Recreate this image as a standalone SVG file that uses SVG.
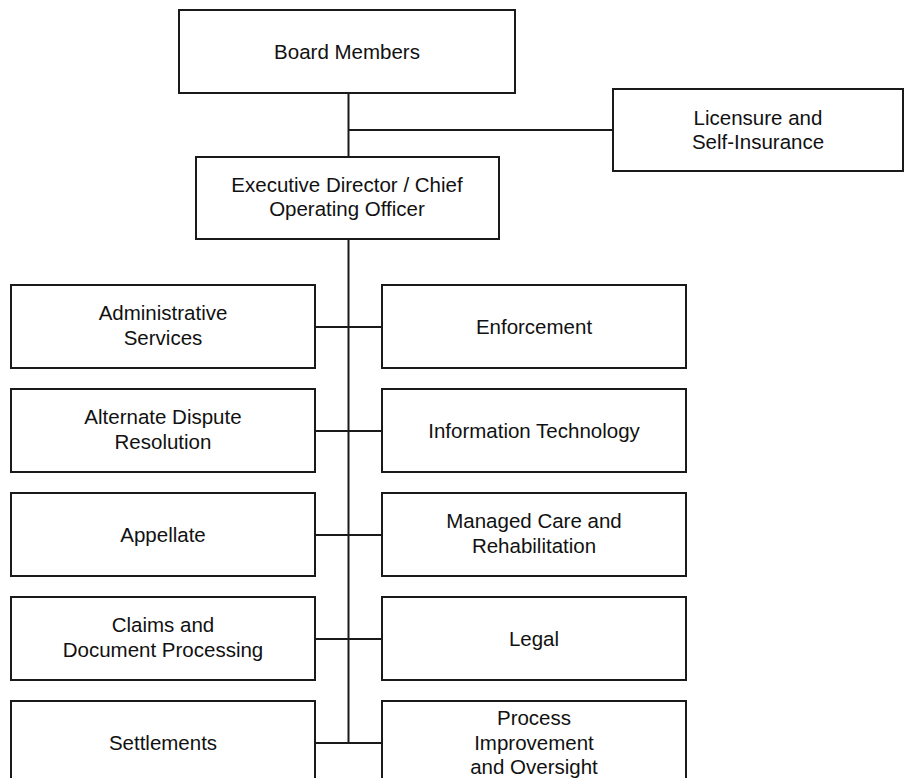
<svg xmlns="http://www.w3.org/2000/svg" width="905" height="778" viewBox="0 0 905 778">
<style>
.box{fill:#fff;stroke:#1a1a1a;stroke-width:2}
.ln{stroke:#1a1a1a;stroke-width:2;fill:none}
text{font-family:"Liberation Sans",Arial,sans-serif;font-size:20.5px;fill:#111;text-anchor:middle}
</style>
<rect width="905" height="778" fill="#fff"/>
<g id="connectors">
<path class="ln" d="M348.5 93V157M348.5 130H613M348.5 239V743"/>
<path class="ln" d="M315 327H382M315 431H382M315 535H382M315 639H382M315 743H382"/>
</g>
<g id="board"><rect class="box" x="179" y="10" width="336" height="83"/><text x="347" y="59">Board Members</text></g>
<g id="licensure"><rect class="box" x="613" y="89" width="290" height="82"/><text x="758" y="124.5">Licensure and</text><text x="758" y="148.5">Self-Insurance</text></g>
<g id="exec"><rect class="box" x="196" y="157" width="303" height="82"/><text x="347" y="192">Executive Director / Chief</text><text x="347" y="216">Operating Officer</text></g>
<g id="admin"><rect class="box" x="11" y="285" width="304" height="83"/><text x="163" y="320">Administrative</text><text x="163" y="345">Services</text></g>
<g id="enforcement"><rect class="box" x="382" y="285" width="304" height="83"/><text x="534" y="334">Enforcement</text></g>
<g id="adr"><rect class="box" x="11" y="389" width="304" height="83"/><text x="163" y="424">Alternate Dispute</text><text x="163" y="449">Resolution</text></g>
<g id="it"><rect class="box" x="382" y="389" width="304" height="83"/><text x="534" y="438">Information Technology</text></g>
<g id="appellate"><rect class="box" x="11" y="493" width="304" height="83"/><text x="163" y="542">Appellate</text></g>
<g id="managedcare"><rect class="box" x="382" y="493" width="304" height="83"/><text x="534" y="528">Managed Care and</text><text x="534" y="553">Rehabilitation</text></g>
<g id="claims"><rect class="box" x="11" y="597" width="304" height="83"/><text x="163" y="632">Claims and</text><text x="163" y="657">Document Processing</text></g>
<g id="legal"><rect class="box" x="382" y="597" width="304" height="83"/><text x="534" y="646">Legal</text></g>
<g id="settlements"><rect class="box" x="11" y="701" width="304" height="83"/><text x="163" y="750">Settlements</text></g>
<g id="process"><rect class="box" x="382" y="701" width="304" height="83"/><text x="534" y="725">Process</text><text x="534" y="750">Improvement</text><text x="534" y="774">and Oversight</text></g>
</svg>
